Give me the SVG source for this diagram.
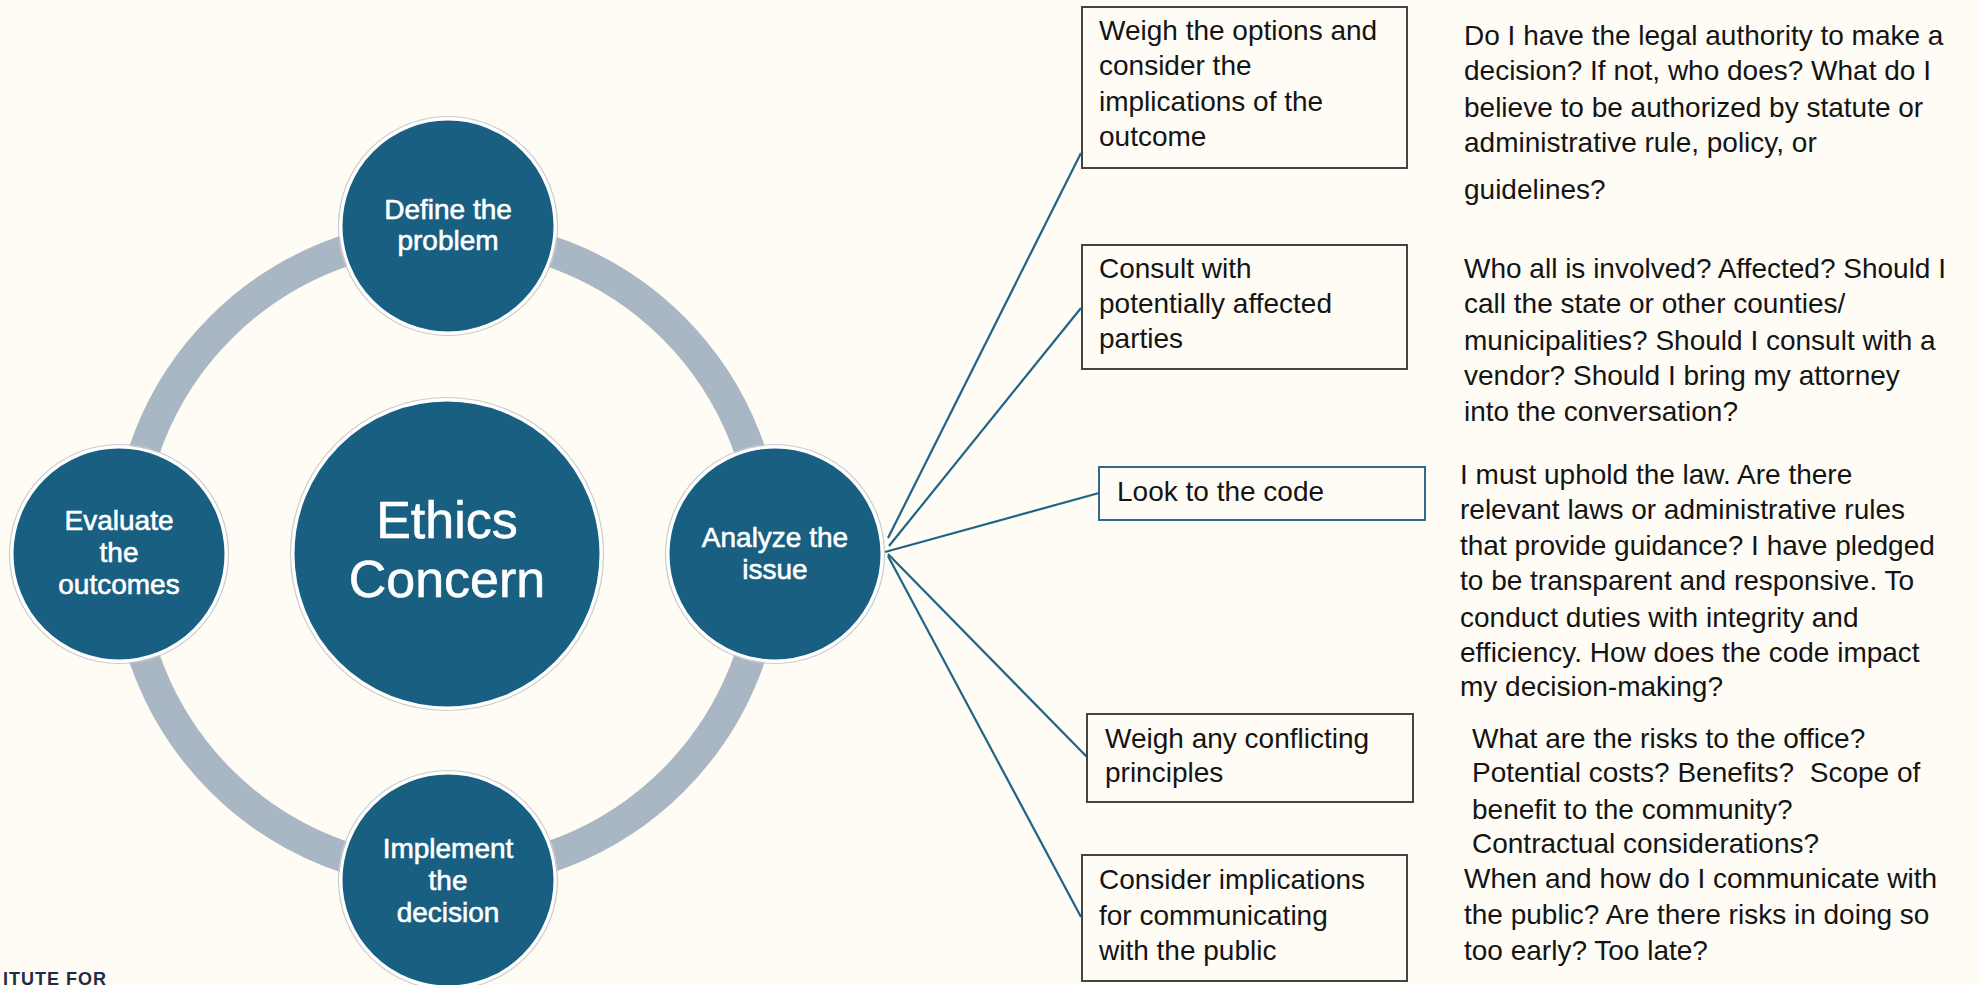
<svg xmlns="http://www.w3.org/2000/svg" width="1979" height="985" viewBox="0 0 1979 985">
<style>
.bg{fill:#FEFCF4}
.ring{fill:none;stroke:#A9B6C3;stroke-width:31}
.node{fill:#195F82;stroke:#FFFFFF;stroke-width:3}
.halo{fill:none;stroke:#C9CCCF;stroke-width:1.2}
.ct{font-family:"Liberation Sans",Arial,sans-serif;font-size:28px;fill:#FFFFFF;stroke:#FFFFFF;stroke-width:0.6;text-anchor:middle}
.big{font-family:"Liberation Sans",Arial,sans-serif;font-size:52px;fill:#FFFFFF;stroke:#FFFFFF;stroke-width:0.6;text-anchor:middle}
.box{fill:none;stroke:#444444;stroke-width:2}
.boxb{fill:none;stroke:#2F6A8C;stroke-width:2}
.bt{font-family:"Liberation Sans",Arial,sans-serif;font-size:28px;fill:#141414}
.conn{stroke:#1F6487;stroke-width:2.2;fill:none}
.logo{font-family:"Liberation Sans",Arial,sans-serif;font-size:18px;font-weight:bold;fill:#1C2D4A;letter-spacing:1px}
</style>
<rect class="bg" x="0" y="0" width="1979" height="985"/>
<circle class="ring" cx="447" cy="554" r="320"/>

<g id="connectors">
<line class="conn" x1="888" y1="538" x2="1081" y2="153"/>
<line class="conn" x1="889" y1="546" x2="1081" y2="308"/>
<line class="conn" x1="885" y1="552" x2="1099" y2="493"/>
<line class="conn" x1="888" y1="554" x2="1087" y2="757"/>
<line class="conn" x1="888" y1="556" x2="1081" y2="917"/>
</g>

<g id="node-center">
<circle class="halo" cx="447" cy="554" r="156.5"/>
<circle class="node" cx="447" cy="554" r="154"/>
<text class="big" x="447" y="538">Ethics</text>
<text class="big" x="447" y="597">Concern</text>
</g>

<g id="node-define">
<circle class="halo" cx="448" cy="226" r="109.5"/>
<circle class="node" cx="448" cy="226" r="107"/>
<text class="ct" x="448" y="219">Define the</text>
<text class="ct" x="448" y="250">problem</text>
</g>

<g id="node-analyze">
<circle class="halo" cx="775" cy="554" r="109.5"/>
<circle class="node" cx="775" cy="554" r="107"/>
<text class="ct" x="775" y="547">Analyze the</text>
<text class="ct" x="775" y="579">issue</text>
</g>

<g id="node-implement">
<circle class="halo" cx="448" cy="880" r="109.5"/>
<circle class="node" cx="448" cy="880" r="107"/>
<text class="ct" x="448" y="858">Implement</text>
<text class="ct" x="448" y="890">the</text>
<text class="ct" x="448" y="922">decision</text>
</g>

<g id="node-evaluate">
<circle class="halo" cx="119" cy="554" r="109.5"/>
<circle class="node" cx="119" cy="554" r="107"/>
<text class="ct" x="119" y="530">Evaluate</text>
<text class="ct" x="119" y="562">the</text>
<text class="ct" x="119" y="594">outcomes</text>
</g>

<g id="box-weigh-options">
<rect class="box" x="1082" y="7" width="325" height="161"/>
<text class="bt"><tspan x="1099" y="40">Weigh the options and</tspan><tspan x="1099" y="75">consider the</tspan><tspan x="1099" y="111">implications of the</tspan><tspan x="1099" y="146">outcome</tspan></text>
</g>
<g id="text-authority">
<text class="bt"><tspan x="1464" y="45">Do I have the legal authority to make a</tspan><tspan x="1464" y="80">decision? If not, who does? What do I</tspan><tspan x="1464" y="117">believe to be authorized by statute or</tspan><tspan x="1464" y="152">administrative rule, policy, or</tspan><tspan x="1464" y="199">guidelines?</tspan></text>
</g>

<g id="box-consult">
<rect class="box" x="1082" y="245" width="325" height="124"/>
<text class="bt"><tspan x="1099" y="278">Consult with</tspan><tspan x="1099" y="313">potentially affected</tspan><tspan x="1099" y="348">parties</tspan></text>
</g>
<g id="text-involved">
<text class="bt"><tspan x="1464" y="278">Who all is involved? Affected? Should I</tspan><tspan x="1464" y="313">call the state or other counties/</tspan><tspan x="1464" y="350">municipalities? Should I consult with a</tspan><tspan x="1464" y="385">vendor? Should I bring my attorney</tspan><tspan x="1464" y="421">into the conversation?</tspan></text>
</g>

<g id="box-code">
<rect class="boxb" x="1099" y="467" width="326" height="53"/>
<text class="bt" x="1117" y="501">Look to the code</text>
</g>
<g id="text-law">
<text class="bt"><tspan x="1460" y="484">I must uphold the law. Are there</tspan><tspan x="1460" y="519">relevant laws or administrative rules</tspan><tspan x="1460" y="555">that provide guidance? I have pledged</tspan><tspan x="1460" y="590">to be transparent and responsive. To</tspan><tspan x="1460" y="627">conduct duties with integrity and</tspan><tspan x="1460" y="662">efficiency. How does the code impact</tspan><tspan x="1460" y="696">my decision-making?</tspan></text>
</g>

<g id="box-conflicting">
<rect class="box" x="1087" y="714" width="326" height="88"/>
<text class="bt"><tspan x="1105" y="748">Weigh any conflicting</tspan><tspan x="1105" y="782">principles</tspan></text>
</g>
<g id="text-risks">
<text class="bt" xml:space="preserve"><tspan x="1472" y="748">What are the risks to the office?</tspan><tspan x="1472" y="782">Potential costs? Benefits?  Scope of</tspan><tspan x="1472" y="819">benefit to the community?</tspan><tspan x="1472" y="853">Contractual considerations?</tspan></text>
</g>

<g id="box-communicating">
<rect class="box" x="1082" y="855" width="325" height="126"/>
<text class="bt"><tspan x="1099" y="889">Consider implications</tspan><tspan x="1099" y="925">for communicating</tspan><tspan x="1099" y="960">with the public</tspan></text>
</g>
<g id="text-public">
<text class="bt"><tspan x="1464" y="888">When and how do I communicate with</tspan><tspan x="1464" y="924">the public? Are there risks in doing so</tspan><tspan x="1464" y="960">too early? Too late?</tspan></text>
</g>

<text class="logo" x="3" y="985">ITUTE FOR</text>
</svg>
